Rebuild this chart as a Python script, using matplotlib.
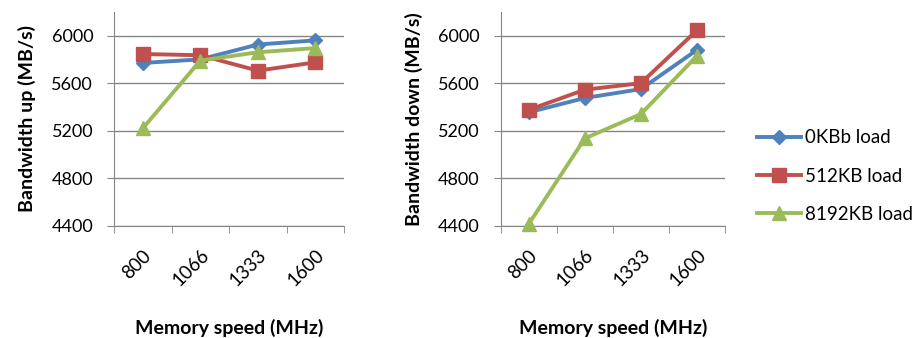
import matplotlib.pyplot as plt
from matplotlib.ticker import FixedLocator

plt.rcParams['font.family'] = ['Lato', 'DejaVu Sans']

speeds = ['800', '1066', '1333', '1600']
series = ['0KBb load', '512KB load', '8192KB load']

# bandwidth in MB/s per memory speed
up_0kb = [5770, 5800, 5925, 5960]
up_512kb = [5845, 5835, 5705, 5775]
up_8192kb = [5220, 5790, 5860, 5895]

down_0kb = [5355, 5475, 5550, 5880]
down_512kb = [5375, 5545, 5600, 6045]
down_8192kb = [4415, 5135, 5340, 5830]

colors = ['#4F81BD', '#C0504D', '#9BBB59']
markers = ['D', 's', '^']
msizes = [7, 10, 10]
grid_c = '#868686'

fig = plt.figure(figsize=(9.13, 3.38), dpi=100)
ax1 = fig.add_axes([0.1249, 0.332, 0.252, 0.633])
ax2 = fig.add_axes([0.5484, 0.332, 0.2457, 0.633])

x = range(len(speeds))
for ax, data, ylabel in [(ax1, [up_0kb, up_512kb, up_8192kb], 'Bandwidth up (MB/s)'),
                         (ax2, [down_0kb, down_512kb, down_8192kb], 'Bandwidth down (MB/s)')]:
    for vals, c, m, ms, name in zip(data, colors, markers, msizes, series):
        ax.plot(x, vals, color=c, marker=m, markersize=ms, linewidth=2.8,
                label=name, clip_on=False, zorder=3)
    ax.set_xlim(-0.5, 3.5)
    ax.set_ylim(4400, 6200)
    ax.set_yticks([4400, 4800, 5200, 5600, 6000])
    ax.yaxis.grid(True, color=grid_c, linewidth=1)
    ax.set_xticks(list(x))
    ax.set_xticklabels(speeds, rotation=45, ha='right', rotation_mode='anchor')
    ax.xaxis.set_minor_locator(FixedLocator([-0.5, 0.5, 1.5, 2.5, 3.5]))
    ax.tick_params(axis='x', which='major', length=0, pad=15, labelsize=13.5)
    ax.tick_params(axis='x', which='minor', length=5, color=grid_c)
    ax.tick_params(axis='y', length=5, color=grid_c, labelsize=13, pad=10)
    for s in ['top', 'right']:
        ax.spines[s].set_visible(False)
    for s in ['left', 'bottom']:
        ax.spines[s].set_color(grid_c)
    ax.set_axisbelow(True)
    ax.set_ylabel(ylabel, fontsize=14, fontweight='bold', labelpad=11)
    ax.set_xlabel('Memory speed (MHz)', fontsize=14, fontweight='bold', labelpad=21)

handles, labels = ax2.get_legend_handles_labels()
fig.legend(handles, labels, loc='center left', bbox_to_anchor=(0.811, 0.479),
           frameon=False, fontsize=13.5, handlelength=2.35, handletextpad=0.2,
           labelspacing=1.13)

fig.savefig('out.png', dpi=100)
